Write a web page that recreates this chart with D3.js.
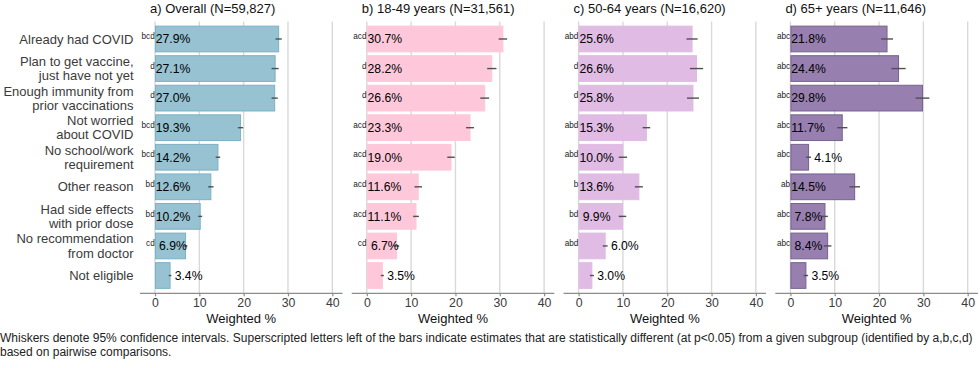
<!DOCTYPE html>
<html><head><meta charset="utf-8">
<script src="https://cdn.jsdelivr.net/npm/d3@7"></script>
<style>
body{margin:0;background:#fff;}
svg{display:block;font-family:"Liberation Sans",Arial,sans-serif;}
</style></head>
<body><svg id="c" width="980" height="368"></svg>
<script>
const categories = [
  ["Already had COVID"],
  ["Plan to get vaccine,","just have not yet"],
  ["Enough immunity from","prior vaccinations"],
  ["Not worried","about COVID"],
  ["No school/work","requirement"],
  ["Other reason"],
  ["Had side effects","with prior dose"],
  ["No recommendation","from doctor"],
  ["Not eligible"]
];
const panelTitles = ["a) Overall (N=59,827)","b) 18-49 years (N=31,561)","c) 50-64 years (N=16,620)","d) 65+ years (N=11,646)"];
const overallVals = [27.9,27.1,27.0,19.3,14.2,12.6,10.2,6.9,3.4];
const overallCI   = [0.7,0.8,0.7,0.6,0.5,0.6,0.45,0.4,0.3];
const overallSup  = ["bcd","d","d","bcd","bcd","bd","bd","cd",""];
const age1849Vals = [30.7,28.2,26.6,23.3,19.0,11.6,11.1,6.7,3.5];
const age1849CI   = [0.95,1.05,1.0,0.9,0.85,0.85,0.65,0.6,0.35];
const age1849Sup  = ["acd","d","d","acd","acd","acd","acd","cd",""];
const age5064Vals = [25.6,26.6,25.8,15.3,10.0,13.6,9.9,6.0,3.0];
const age5064CI   = [1.25,1.5,1.35,0.85,0.95,0.9,0.85,0.55,0.45];
const age5064Sup  = ["abd","d","d","abd","abd","b","bd","abd",""];
const age65Vals   = [21.8,24.4,29.8,11.7,4.1,14.5,7.8,8.4,3.5];
const age65CI     = [1.35,1.6,1.55,1.15,0.55,1.2,0.65,0.85,0.5];
const age65Sup    = ["abc","abc","abc","abc","abc","ab","abc","abc",""];
const xTicks = [0,10,20,30,40];
const fills   = ["#96c2d1","#ffc8da","#e0bbe4","#977fb0"];
const strokes = ["#7bb2c5","#ffc8da","#e0bbe4","#76638f"];

const panels = [
  {vals:overallVals, ci:overallCI, sup:overallSup},
  {vals:age1849Vals, ci:age1849CI, sup:age1849Sup},
  {vals:age5064Vals, ci:age5064CI, sup:age5064Sup},
  {vals:age65Vals,   ci:age65CI,   sup:age65Sup}
];

const svg = d3.select("#c");
const y = d3.scaleBand().domain(d3.range(categories.length)).range([24.2,290.3]).paddingInner(0.13).paddingOuter(0.065);
const axisY = 293.3, gridTop = 21.5;
const fmt = d3.format(".1f");

// category labels
const catG = svg.append("g");
categories.forEach((lines,i)=>{
  const cy = y(i)+y.bandwidth()/2;
  const t = catG.append("text").attr("x",133.5).attr("text-anchor","end")
    .attr("font-size",13).attr("fill","#3b3b3b");
  const n = lines.length;
  lines.forEach((l,j)=>{
    t.append("tspan").attr("x",133.5).attr("y",cy+4.6+(j-(n-1)/2)*14.4).text(l);
  });
});

panels.forEach((p,pi)=>{
  const x0 = 155 + pi*211.8;
  const x = d3.scaleLinear().domain([0,40]).range([x0,x0+177.3]);
  const g = svg.append("g");
  // grid
  g.selectAll("line.grid").data(xTicks).join("line")
    .attr("x1",d=>x(d)).attr("x2",d=>x(d)).attr("y1",gridTop).attr("y2",axisY)
    .attr("stroke","#d9d9d9").attr("stroke-width",1.4);
  // axis
  g.append("line").attr("x1",x(-3.4)).attr("x2",x(42.3)).attr("y1",axisY).attr("y2",axisY)
    .attr("stroke","#8c8c8c").attr("stroke-width",1.3);
  const ax = d3.axisBottom(x).tickValues(xTicks).tickSize(3).tickPadding(2);
  const axG = g.append("g").attr("transform",`translate(0,${axisY})`).call(ax);
  axG.select(".domain").remove();
  axG.selectAll(".tick line").attr("stroke","#8c8c8c").attr("stroke-width",1.2);
  axG.selectAll(".tick text").attr("font-size",12.3).attr("fill","#3b3b3b")
    .attr("font-family","'Liberation Sans',Arial,sans-serif");
  // x title
  g.append("text").attr("x",(x(-3.4)+x(42.3))/2).attr("y",322.5).attr("text-anchor","middle")
    .attr("font-size",13).attr("fill","#111").text("Weighted %");
  // panel title
  g.append("text").attr("x",x0-5).attr("y",12.8).attr("font-size",13).attr("fill","#111").text(panelTitles[pi]);
  // bars
  const idx = d3.range(p.vals.length);
  g.selectAll("rect.bar").data(idx).join("rect")
    .attr("x",x(0)+0.5).attr("y",i=>y(i)).attr("width",i=>x(p.vals[i])-x(0)-0.5).attr("height",y.bandwidth())
    .attr("fill",fills[pi]).attr("stroke",strokes[pi]).attr("stroke-width",1);
  // whiskers
  g.selectAll("line.wh").data(idx).join("line")
    .attr("x1",i=>x(p.vals[i]-p.ci[i])).attr("x2",i=>x(p.vals[i]+p.ci[i]))
    .attr("y1",i=>y(i)+y.bandwidth()/2).attr("y2",i=>y(i)+y.bandwidth()/2)
    .attr("stroke","#505050").attr("stroke-width",1.4);
  // superscripts
  g.selectAll("text.sup").data(idx).join("text")
    .attr("x",x(0)-0.3).attr("y",i=>y(i)+y.bandwidth()/2+0.2).attr("text-anchor","end")
    .attr("font-size",8.2).attr("fill","#222").text(i=>p.sup[i]);
  // value labels
  g.selectAll("text.val").data(idx).join("text")
    .attr("x",i=>{
      const v=p.vals[i];
      if (v<6.5) return x(v+p.ci[i])+3.3;
      return x(0)+0.8+(v<10?3.3:0);
    })
    .attr("y",i=>y(i)+y.bandwidth()/2+4.3)
    .attr("font-size",12.2).attr("fill","#000").text(i=>fmt(p.vals[i])+"%");
});

// footnote
svg.append("text").attr("x",0).attr("y",341.8).attr("font-size",12).attr("fill","#222")
  .text("Whiskers denote 95% confidence intervals. Superscripted letters left of the bars indicate estimates that are statistically different (at p<0.05) from a given subgroup (identified by a,b,c,d)");
svg.append("text").attr("x",0).attr("y",355.8).attr("font-size",12).attr("fill","#222")
  .text("based on pairwise comparisons.");
</script></body></html>
